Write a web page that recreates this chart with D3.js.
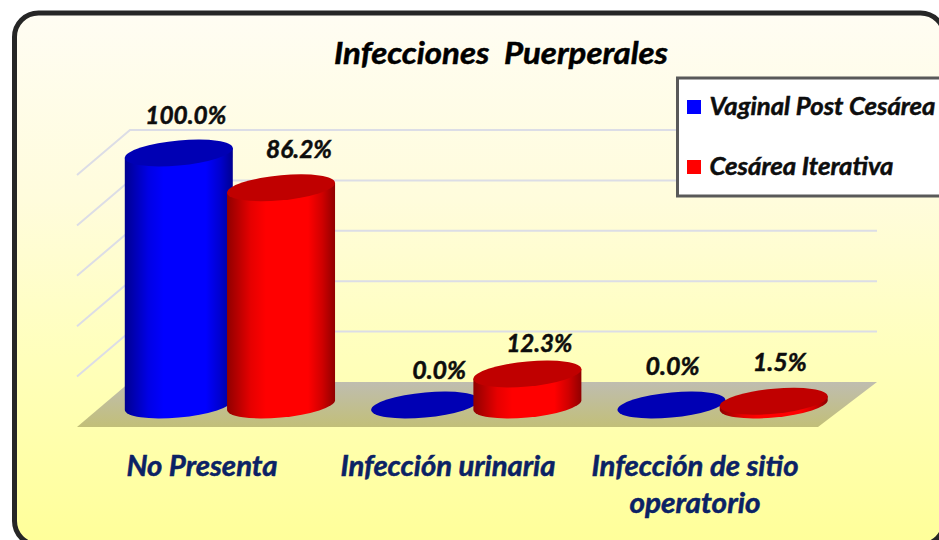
<!DOCTYPE html>
<html><head><meta charset="utf-8">
<script src="https://cdn.jsdelivr.net/npm/d3@7"></script>
<style>html,body{margin:0;padding:0;background:#fff}svg{display:block}text{font-family:Lato,Carlito,sans-serif;font-weight:700;font-style:italic;stroke-width:.5px;white-space:pre}</style>
</head><body><svg id="c" width="939" height="540"></svg>
<script>
const categories = ["No Presenta", "Infección urinaria", "Infección de sitio|operatorio"];
const seriesNames = ["Vaginal Post Cesárea", "Cesárea Iterativa"];
const vaginal = [100.0, 0.0, 0.0];
const iterativa = [86.2, 12.3, 1.5];
const yTicks = [0, 20, 40, 60, 80, 100];
const title = "Infecciones  Puerperales";

const svg = d3.select("#c");
const defs = svg.append("defs");
function lin(id, x2, y2, stops){
  const g = defs.append("linearGradient").attr("id", id).attr("x1",0).attr("y1",0).attr("x2",x2).attr("y2",y2);
  stops.forEach(s => g.append("stop").attr("offset", s[0]).attr("stop-color", s[1]));
}
function txt(parent, s, px, py, size, fill, width, anchor){
  return parent.append("text").attr("x",px).attr("y",py).attr("text-anchor",anchor||"middle")
    .attr("font-size",size).attr("fill",fill).attr("stroke",fill)
    .attr("textLength",width).attr("lengthAdjust","spacingAndGlyphs").text(s);
}
lin("bg",0,1,[[0,"#fffdf3"],[0.35,"#fffcdc"],[0.65,"#ffffbb"],[1,"#ffff99"]]);
lin("floor",0,1,[[0,"#bfbdb0"],[1,"#c2bf78"]]);
lin("blue",1,0,[[0,"#000090"],[0.22,"#0000e6"],[0.36,"#0000ff"],[0.75,"#0000ff"],[0.88,"#0000d0"],[1,"#000090"]]);
lin("red",1,0,[[0,"#900000"],[0.22,"#e60000"],[0.36,"#ff0000"],[0.75,"#ff0000"],[0.88,"#d00000"],[1,"#900000"]]);

// frame
svg.append("rect").attr("x",14.5).attr("y",13).attr("width",930).attr("height",532).attr("rx",24)
  .attr("fill","url(#bg)").attr("stroke","#262626").attr("stroke-width",5);

const y = d3.scaleLinear().domain([0,100]).range([382,130]);
const depthX = 53, depthY = 45;
const wallL = 130, wallR = 877;
const grid = svg.append("g").attr("fill","none").attr("stroke","#dcdde6").attr("stroke-width",2);
svg.insert("path","g").attr("fill","url(#floor)")
  .attr("d",`M${wallL},${y(0)}H${wallR}L${wallR-59},${y(0)+depthY}H${wallL-depthX}Z`);
yTicks.filter(t=>t>0).forEach(t=>{
  grid.append("path").attr("d",`M${wallL-depthX},${y(t)+depthY}L${wallL},${y(t)}H${wallR}`);
});

const x0 = d3.scaleBand().domain(d3.range(categories.length)).range([107.5,846.5]);
const x1 = d3.scaleBand().domain([0,1]).range([x0.bandwidth()/2-103,x0.bandwidth()/2+101.5]);
const baseY = y(0)+23, rx = 54, ry = 12.5, skew = -0.09;
const h = d3.scaleLinear().domain([0,100]).range([0,252]);

function cyl(cx, v, grad, top){
  const g = svg.append("g").attr("transform",`matrix(1,${skew},0,1,${cx},${baseY})`);
  const H = h(v);
  if (H>0) g.append("path").attr("fill",`url(#${grad})`)
    .attr("d",`M${-rx},${-H}V0A${rx},${ry} 0 0 0 ${rx},0V${-H}Z`);
  g.append("ellipse").attr("cx",0).attr("cy",-H).attr("rx",rx).attr("ry",ry).attr("fill",top);
}
const pctW = v => v >= 100 ? 81 : v >= 10 ? 66 : 54;
// label offsets from each cylinder's top, per category and series
const labelDx = [[7, 18], [14, 12], [1, 6]];
const labelDy = [[-29, -30], [-26, -22], [-30, -30]];
const catCx = [202, 448, 695], catW = [[151], [215], [207, 131]];
categories.forEach((c,i)=>{
  const a = x0(i)+x1(0)+x1.bandwidth()/2, b = x0(i)+x1(1)+x1.bandwidth()/2;
  cyl(a, vaginal[i], "blue", "#0000b4");
  cyl(b, iterativa[i], "red", "#c00000");
  [[vaginal[i],a],[iterativa[i],b]].forEach(([v,cx],s)=>
    txt(svg, v.toFixed(1)+"%", cx+labelDx[i][s], baseY-h(v)+labelDy[i][s], 25, "#0d0d0d", pctW(v)));
  c.split("|").forEach((p,k)=> txt(svg, p, catCx[i], 476+k*37, 28, "#0b2265", catW[i][k]));
});

txt(svg, title, 501, 64, 31, "#000", 334);

// legend
const lg = svg.append("g");
lg.append("rect").attr("x",677.5).attr("y",78).attr("width",290).attr("height",118).attr("fill","#fff").attr("stroke","#595959").attr("stroke-width",3);
const legW = [226, 184];
seriesNames.forEach((n,i)=>{
  const ly = 107+i*60;
  lg.append("rect").attr("x",687).attr("y",ly-7).attr("width",14).attr("height",14).attr("fill",i?"#ff0000":"#0000ff");
  txt(lg, n, 709.5, ly+8, 25, "#0d0d0d", legW[i], "start");
});
</script></body></html>
